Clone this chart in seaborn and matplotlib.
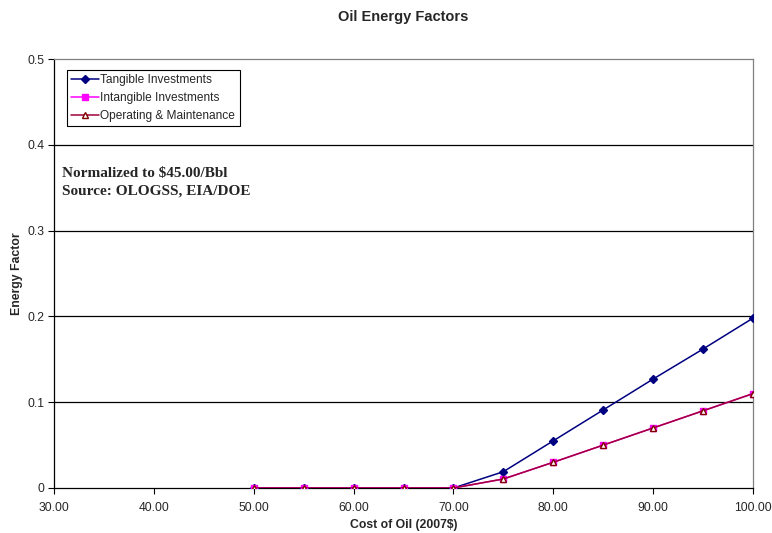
import matplotlib
matplotlib.use("Agg")
import matplotlib.pyplot as plt
import seaborn as sns
import pandas as pd

cost = [50, 55, 60, 65, 70, 75, 80, 85, 90, 95, 100]
tangible = [0.0, 0.0, 0.0, 0.0, 0.0, 0.019, 0.055, 0.091, 0.127, 0.162, 0.198]
intangible = [0.0, 0.0, 0.0, 0.0, 0.0, 0.0105, 0.030, 0.050, 0.070, 0.090, 0.110]
operating = [0.0, 0.0, 0.0, 0.0, 0.0, 0.0105, 0.030, 0.050, 0.070, 0.090, 0.110]
x_ticks = [30, 40, 50, 60, 70, 80, 90, 100]
y_ticks = [0, 0.1, 0.2, 0.3, 0.4, 0.5]
notes = ["Normalized to $45.00/Bbl", "Source: OLOGSS, EIA/DOE"]

sns.set_style("white")
plt.rcParams["font.family"] = ["Liberation Sans", "DejaVu Sans"]

df = pd.DataFrame({
    "cost": cost * 3,
    "value": tangible + intangible + operating,
    "series": (["Tangible Investments"] * len(cost)
               + ["Intangible Investments"] * len(cost)
               + ["Operating & Maintenance"] * len(cost)),
})

fig = plt.figure(figsize=(7.72, 5.33), dpi=100)
ax = fig.add_axes([54 / 772, 45 / 533, 699 / 772, 429 / 533])

styles = {
    "Tangible Investments": dict(color="#000080", marker="D", ms=4, mfc="#000080", mec="#000080"),
    "Intangible Investments": dict(color="#FF00FF", marker="s", ms=5, mfc="#FF00FF", mec="#FF00FF"),
    "Operating & Maintenance": dict(color="#A0003A", marker="^", ms=5, mfc="white", mec="#800000"),
}
for name, st in styles.items():
    sub = df[df["series"] == name]
    sns.lineplot(data=sub, x="cost", y="value", ax=ax, color=st["color"], lw=1.1,
                 marker=st["marker"], markersize=st["ms"], markerfacecolor=st["mfc"],
                 markeredgecolor=st["mec"], markeredgewidth=1.0, label=name, zorder=3)

ax.set_xlim(30, 100)
ax.set_ylim(0, 0.5)
ax.set_xticks(x_ticks)
ax.set_xticklabels([f"{v:.2f}" for v in x_ticks], fontsize=8.7)
ax.set_yticks(y_ticks)
ax.set_yticklabels(["0", "0.1", "0.2", "0.3", "0.4", "0.5"], fontsize=8.7)
ax.tick_params(axis="both", direction="out", length=4, width=0.8, color="black",
               bottom=True, left=True)
ax.tick_params(axis="x", pad=6)
ax.tick_params(axis="y", pad=3)
for y in y_ticks[1:-1]:
    ax.axhline(y, color="black", lw=0.9, zorder=1)
ax.spines["left"].set_color("black")
ax.spines["bottom"].set_color("black")
ax.spines["top"].set_color("#808080")
ax.spines["right"].set_color("#808080")
for s in ax.spines.values():
    s.set_linewidth(0.9)

ax.set_xlabel("Cost of Oil (2007$)", fontsize=8.8, fontweight="bold", labelpad=4)
ax.set_ylabel("Energy Factor", fontsize=8.8, fontweight="bold", labelpad=3)
fig.text(403.5 / 772, 1 - 17 / 533, "Oil Energy Factors", fontsize=10.5,
         fontweight="bold", ha="center", va="center")

leg = ax.legend(loc="upper left", bbox_to_anchor=(13 / 699, 1 - 11 / 429), fontsize=8.6,
                frameon=True, fancybox=False, edgecolor="black", framealpha=1,
                borderpad=0.35, labelspacing=0.5, handlelength=2.3, handletextpad=0.15,
                borderaxespad=0)
leg.get_frame().set_linewidth(0.8)

for i, line in enumerate(notes):
    ax.text(8 / 699, 1 - (114 + 18 * i) / 429, line, transform=ax.transAxes,
            fontsize=11, fontweight="bold", family=["Liberation Serif", "DejaVu Serif"],
            va="center", ha="left")

fig.savefig("out.png", dpi=100)
